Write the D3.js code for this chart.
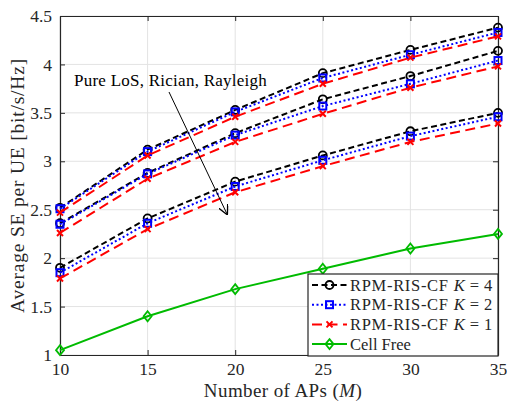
<!DOCTYPE html>
<html>
<head>
<meta charset="utf-8">
<script src="https://cdn.jsdelivr.net/npm/d3@7"></script>
<style>
  body { margin: 0; background: #fff; }
  svg text { font-family: "Liberation Serif", "Times New Roman", Times, "DejaVu Serif", "Noto Serif", serif !important; }
</style>
</head>
<body>
<svg id="chart" width="507" height="405"></svg>
<script>
// number of APs
const apCounts = [10, 15, 20, 25, 30, 35]

// pure LoS group
const losK4 = [2.52, 3.12, 3.53, 3.91, 4.15, 4.38]
const losK2 = [2.51, 3.10, 3.51, 3.86, 4.10, 4.33]
const losK1 = [2.47, 3.06, 3.46, 3.80, 4.07, 4.29]
// rician group
const ricK4 = [2.36, 2.88, 3.29, 3.64, 3.88, 4.14]
const ricK2 = [2.35, 2.87, 3.27, 3.57, 3.80, 4.04]
const ricK1 = [2.26, 2.82, 3.20, 3.49, 3.76, 3.98]
// rayleigh group
const rayK4 = [1.90, 2.41, 2.79, 3.06, 3.31, 3.50]
const rayK2 = [1.85, 2.36, 2.74, 3.01, 3.26, 3.46]
const rayK1 = [1.79, 2.30, 2.68, 2.95, 3.20, 3.39]
// baseline
const cellFree = [1.05, 1.40, 1.68, 1.89, 2.10, 2.25]

const xTicks = [10, 15, 20, 25, 30, 35]
const yTicks = [1, 1.5, 2, 2.5, 3, 3.5, 4, 4.5]

const styles = {
    k4: {color: '#000000', dash: '6,3.5', marker: 'circle', label: 'RPM-RIS-CF', k: '4'},
    k2: {color: '#0000ff', dash: '2,2.5', marker: 'square', label: 'RPM-RIS-CF', k: '2'},
    k1: {color: '#ff0000', dash: '10,5.5', marker: 'cross', label: 'RPM-RIS-CF', k: '1'},
    cf: {color: '#00bb00', dash: null, marker: 'diamond', label: 'Cell Free', k: null}
}

const series = [
    {vals: losK4, s: 'k4'}, {vals: losK2, s: 'k2'}, {vals: losK1, s: 'k1'},
    {vals: ricK4, s: 'k4'}, {vals: ricK2, s: 'k2'}, {vals: ricK1, s: 'k1'},
    {vals: rayK4, s: 'k4'}, {vals: rayK2, s: 'k2'}, {vals: rayK1, s: 'k1'},
    {vals: cellFree, s: 'cf'}
]

const m = {left: 60, right: 9, top: 16, bottom: 50}
const W = 507, H = 405
const svg = d3.select('#chart')

const x = d3.scaleLinear().domain([10, 35]).range([m.left, W - m.right])
const y = d3.scaleLinear().domain([1, 4.5]).range([H - m.bottom, m.top])

// grid
const grid = svg.append('g')
grid.selectAll('.gx').data(xTicks).enter().append('line')
    .attr('x1', d => x(d)).attr('x2', d => x(d))
    .attr('y1', y(1)).attr('y2', y(4.5))
    .attr('stroke', '#e3e3e3').attr('stroke-width', 1)
grid.selectAll('.gy').data(yTicks).enter().append('line')
    .attr('x1', x(10)).attr('x2', x(35))
    .attr('y1', d => y(d)).attr('y2', d => y(d))
    .attr('stroke', '#e3e3e3').attr('stroke-width', 1)

// axes
const xAxis = d3.axisBottom(x).tickValues(xTicks).tickSizeInner(-5).tickSizeOuter(0).tickPadding(7.5)
const yAxis = d3.axisLeft(y).tickValues(yTicks).tickSizeInner(-5).tickSizeOuter(0).tickPadding(8)
    .tickFormat(d => d3.format('')(d))
const gx = svg.append('g').attr('transform', `translate(0,${y(1)})`).call(xAxis)
const gy = svg.append('g').attr('transform', `translate(${x(10)},0)`).call(yAxis)
svg.append('g').attr('transform', `translate(0,${y(4.5)})`)
    .call(d3.axisTop(x).tickValues(xTicks).tickSizeInner(-5).tickSizeOuter(0).tickFormat(''))
svg.append('g').attr('transform', `translate(${x(35)},0)`)
    .call(d3.axisRight(y).tickValues(yTicks).tickSizeInner(-5).tickSizeOuter(0).tickFormat(''))
svg.selectAll('.domain').attr('stroke', '#262626').attr('stroke-width', 1.2)
svg.selectAll('.tick line').attr('stroke', '#262626')
gx.selectAll('text').attr('font-size', 17.5).attr('fill', '#262626')
gy.selectAll('text').attr('font-size', 17.5).attr('fill', '#262626')

// axis labels
const xl = svg.append('text').attr('x', 283).attr('y', 396.5)
    .attr('text-anchor', 'middle').attr('font-size', 19).attr('letter-spacing', 0.4).attr('fill', '#262626')
xl.append('tspan').text('Number of APs (')
xl.append('tspan').attr('font-style', 'italic').text('M')
xl.append('tspan').text(')')
svg.append('text')
    .attr('transform', `translate(24,${(y(1) + y(4.5)) / 2}) rotate(-90)`)
    .attr('text-anchor', 'middle').attr('font-size', 19.5).attr('letter-spacing', 0.8).attr('fill', '#262626')
    .text('Average SE per UE [bit/s/Hz]')

// markers
function drawMarker(g, type, color, cx, cy) {
    if (type === 'circle') {
        g.append('circle').attr('cx', cx).attr('cy', cy).attr('r', 4)
            .attr('fill', 'none').attr('stroke', color).attr('stroke-width', 1.8)
    } else if (type === 'square') {
        g.append('rect').attr('x', cx - 3.5).attr('y', cy - 3.5).attr('width', 7).attr('height', 7)
            .attr('fill', 'none').attr('stroke', color).attr('stroke-width', 2)
    } else if (type === 'cross') {
        g.append('path').attr('d', `M${cx - 3},${cy - 3}L${cx + 3},${cy + 3}M${cx - 3},${cy + 3}L${cx + 3},${cy - 3}`)
            .attr('stroke', color).attr('stroke-width', 2)
    } else {
        g.append('path').attr('d', `M${cx},${cy - 5}L${cx + 4},${cy}L${cx},${cy + 5}L${cx - 4},${cy}Z`)
            .attr('fill', 'none').attr('stroke', color).attr('stroke-width', 1.8)
    }
}

const line = d3.line().x((d, i) => x(apCounts[i])).y(d => y(d))
const plot = svg.append('g')
series.forEach(se => {
    const st = styles[se.s]
    plot.append('path').attr('d', line(se.vals))
        .attr('fill', 'none').attr('stroke', st.color).attr('stroke-width', 2)
        .attr('stroke-dasharray', st.dash)
    se.vals.forEach((v, i) => drawMarker(plot, st.marker, st.color, x(apCounts[i]), y(v)))
})

// annotation
svg.append('text').attr('x', 74).attr('y', 86).attr('font-size', 17).attr('letter-spacing', 0.25).attr('fill', '#000')
    .text('Pure LoS, Rician, Rayleigh')
svg.append('defs').append('marker').attr('id', 'arr').attr('viewBox', '0 0 10 10')
    .attr('refX', 9).attr('refY', 5).attr('markerWidth', 10).attr('markerHeight', 10)
    .attr('markerUnits', 'userSpaceOnUse').attr('orient', 'auto')
    .append('path').attr('d', 'M0,0L10,5L0,10').attr('fill', 'none').attr('stroke', '#000').attr('stroke-width', 1.3)
svg.append('line').attr('x1', 169).attr('y1', 92).attr('x2', 227).attr('y2', 214)
    .attr('stroke', '#000').attr('stroke-width', 1).attr('marker-end', 'url(#arr)')

// legend
const lg = svg.append('g')
lg.append('rect').attr('x', 308).attr('y', 274).attr('width', 190).attr('height', 82)
    .attr('fill', '#fff').attr('stroke', '#262626').attr('stroke-width', 1.2)
const legendKeys = ['k4', 'k2', 'k1', 'cf']
legendKeys.forEach((k, i) => {
    const st = styles[k]
    const cy = 285 + i * 19.7
    lg.append('line').attr('x1', 312).attr('x2', 347).attr('y1', cy).attr('y2', cy)
        .attr('stroke', st.color).attr('stroke-width', 2).attr('stroke-dasharray', st.dash)
    drawMarker(lg, st.marker, st.color, 329.5, cy)
    const t = lg.append('text').attr('x', 350).attr('y', cy + 5.5).attr('font-size', 16.5).attr('fill', '#262626')
    if (st.k) {
        t.append('tspan').attr('letter-spacing', 0.7).text(st.label)
        t.append('tspan').attr('dx', 5).attr('font-style', 'italic').text('K')
        t.append('tspan').attr('dx', 5).text('=')
        t.append('tspan').attr('dx', 5).text(st.k)
    } else {
        t.append('tspan').text(st.label)
    }
})
</script>
</body>
</html>
